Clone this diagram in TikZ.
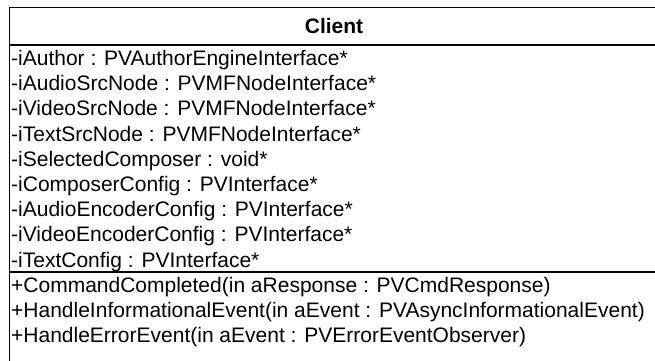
\documentclass[tikz,border=0pt]{standalone}
\usepackage{fontspec}
\setmainfont{Liberation Sans}
\begin{document}
\begin{tikzpicture}[x=1pt,y=-1pt,
  boxline/.style={draw=black,line width=1.6pt},
  member/.style={anchor=base west,inner sep=0pt,font=\fontsize{21}{25}\selectfont},
  title/.style={anchor=center,inner sep=0pt,font=\fontsize{21}{25}\selectfont\bfseries}]
\useasboundingbox (0,0) rectangle (655,360);
\fill[white] (0,0) rectangle (655,360);
% class box (its right and bottom edges lie outside the picture)
\draw[boxline] (9.5,7.5) rectangle (660,366);
\draw[boxline] (9.5,45) -- (660,45);
\draw[boxline] (9.5,272) -- (660,272);
\node[title] (name) at (334,26) {Client};
\foreach \t [count=\i from 0] in {
  -iAuthor : PVAuthorEngineInterface*,
  -iAudioSrcNode : PVMFNodeInterface*,
  -iVideoSrcNode : PVMFNodeInterface*,
  -iTextSrcNode : PVMFNodeInterface*,
  -iSelectedComposer : void*,
  -iComposerConfig : PVInterface*,
  -iAudioEncoderConfig : PVInterface*,
  -iVideoEncoderConfig : PVInterface*,
  -iTextConfig : PVInterface*}
  \node[member] (attr\i) at (11,{65.5+25.2*\i}) {\t};
\node[member] (op0) at (11,292.5) {+CommandCompleted(in aResponse : PVCmdResponse)};
\node[member] (op1) at (11,317.7) {+HandleInformationalEvent(in aEvent : PVAsyncInformationalEvent)};
\node[member] (op2) at (11,342.9) {+HandleErrorEvent(in aEvent : PVErrorEventObserver)};
\end{tikzpicture}
\end{document}
